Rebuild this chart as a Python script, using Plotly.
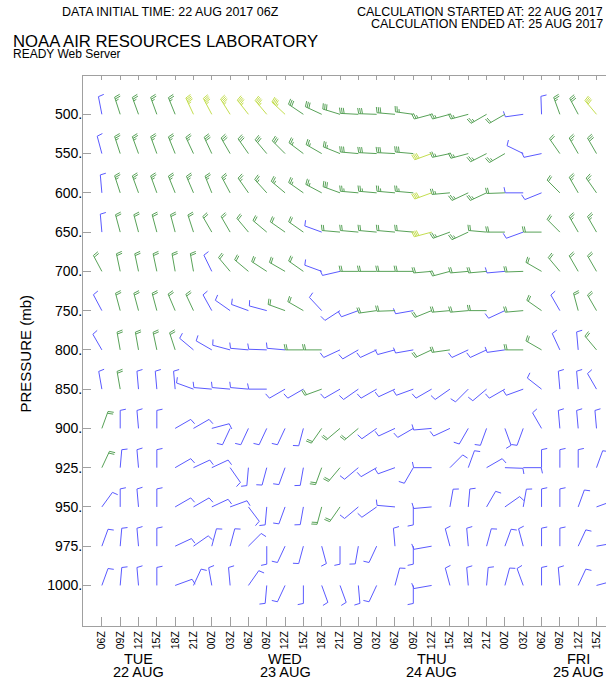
import math
import plotly.graph_objects as go

# ---------------- data ----------------
LEVELS = ["500.", "550.", "600.", "650.", "700.", "750.", "800.", "850.",
          "900.", "925.", "950.", "975.", "1000."]
TIME_LABELS = ["06Z", "09Z", "12Z", "15Z", "18Z", "21Z", "00Z", "03Z",
               "06Z", "09Z", "12Z", "15Z", "18Z", "21Z", "00Z", "03Z",
               "06Z", "09Z", "12Z", "15Z", "18Z", "21Z", "00Z", "03Z",
               "06Z", "09Z", "12Z", "15Z"]
DAY_NAMES = ["TUE", "WED", "THU", "FRI"]
DAY_DATES = ["22 AUG", "23 AUG", "24 AUG", "25 AUG"]
DAY_INDEX = [2, 10, 18, 26]  # 12Z of each day

# wind direction (deg, from) and speed (kt) per level, 28 times each
DIR_500 = [349, 342, 340, 340, 338, 335, 332, 328, 322, 320, 313, 304, 295, 287,
           273, 272, 275, 278, 255, 255, 255, 240, 240, 262, 358, 340, 332, 320]
SPD_500 = [10, 25, 25, 25, 25, 45, 45, 45, 45, 45, 45, 30, 30, 30,
           30, 30, 30, 25, 25, 25, 25, 25, 20, 10, 10, 25, 30, 40]
DIR_550 = [345, 342, 340, 340, 338, 335, 335, 330, 325, 320, 315, 307, 300, 292,
           275, 273, 273, 275, 250, 258, 255, 243, 240, 296, 258, 325, 330, 330]
SPD_550 = [10, 25, 25, 25, 25, 25, 30, 30, 30, 30, 30, 25, 25, 25,
           30, 30, 30, 30, 40, 25, 25, 25, 25, 10, 10, 20, 25, 30]
DIR_600 = [355, 342, 340, 340, 338, 337, 338, 332, 325, 318, 310, 305, 298, 290,
           275, 275, 275, 275, 250, 265, 245, 245, 268, 270, 248, 315, 330, 325]
SPD_600 = [10, 25, 25, 25, 25, 25, 25, 25, 25, 25, 25, 25, 25, 30,
           25, 25, 25, 25, 40, 25, 25, 25, 20, 10, 10, 20, 25, 25]
DIR_650 = [355, 345, 345, 345, 345, 342, 330, 330, 320, 310, 305, 305, 290, 275,
           275, 275, 275, 275, 255, 250, 245, 275, 270, 250, 270, 315, 330, 330]
SPD_650 = [10, 20, 20, 20, 20, 20, 20, 20, 20, 20, 20, 20, 10, 20,
           20, 20, 20, 20, 40, 25, 25, 20, 20, 10, 20, 20, 25, 25]
DIR_700 = [332, 348, 348, 348, 350, 350, 334, 320, 310, 303, 300, 305, 290, 257,
           270, 270, 270, 270, 265, 255, 265, 265, 265, 268, 300, 320, 330, 330]
SPD_700 = [20, 20, 20, 20, 20, 20, 10, 20, 20, 20, 20, 20, 10, 10,
           20, 20, 20, 20, 20, 20, 20, 20, 10, 20, 20, 20, 20, 20]
DIR_750 = [332, 345, 345, 345, 337, 335, 331, 305, 290, 285, 290, 300, 317, 237,
           250, 262, 268, 260, 248, 265, 265, 270, 245, 265, 305, 330, 345, 330]
SPD_750 = [10, 20, 20, 20, 20, 20, 10, 10, 10, 10, 20, 20, 10, 10,
           10, 20, 20, 10, 20, 20, 20, 20, 10, 20, 20, 10, 20, 20]
DIR_800 = [330, 350, 350, 348, 342, 310, 300, 285, 275, 272, 275, 270, 270, 245,
           240, 245, 255, 260, 245, 262, 245, 245, 262, 270, 300, 335, 355, 320]
SPD_800 = [10, 20, 20, 20, 20, 10, 10, 10, 10, 10, 10, 20, 20, 10,
           10, 10, 10, 10, 20, 20, 10, 10, 10, 20, 20, 10, 10, 20]
DIR_850 = [350, 350, 355, 355, 355, 290, 275, 275, 275, 270, 240, 240, 250, 240,
           235, 240, 245, 250, 240, 235, 225, 230, 240, 250, 308, 355, 355, 330]
SPD_850 = [10, 20, 10, 10, 10, 10, 10, 10, 10, 10, 10, 10, 20, 10,
           10, 10, 10, 10, 10, 10, 10, 10, 10, 10, 10, 10, 10, 10]
DIR_900 = [20, 0, 355, 0, 60, 60, 75, 205, 205, 205, 205, 195, 215, 230,
           230, 235, 245, 240, 265, 245, 210, 200, 160, 200, 330, 355, 355, 355]
SPD_900 = [20, 10, 10, 10, 10, 10, 10, 10, 10, 10, 10, 10, 20, 20,
           20, 10, 10, 10, 10, 10, 10, 10, 10, 10, 10, 10, 10, 10]
DIR_925 = [25, 5, 355, 0, 60, 65, 65, 145, 185, 195, 200, 190, 200, 220,
           230, 240, 250, 210, 270, 45, 20, 60, 92, 90, 0, 0, 0, 20]
SPD_925 = [20, 10, 10, 10, 10, 10, 10, 10, 10, 10, 10, 10, 20, 20,
           10, 10, 10, 10, 10, 10, 10, 10, 10, 10, 10, 10, 10, 10]
DIR_950 = [36, 0, 355, 0, 60, 60, 65, 70, 143, 185, 200, 190, 195, 215,
           230, 235, 275, 180, 265, 10, 5, 30, 55, 10, 0, 0, 20, 70]
SPD_950 = [10, 10, 10, 10, 10, 10, 10, 10, 10, 10, 10, 10, 20, 20,
           10, 10, 10, 10, 10, 10, 10, 10, 10, 10, 10, 10, 10, 10]
DIR_975 = [20, 5, 355, 0, 65, 55, 15, 15, 45, 180, 205, 195, 165, 180,
           190, 205, 355, 180, 260, 345, 355, 15, 20, 345, 0, 0, 25, 80]
SPD_975 = [10, 10, 10, 10, 10, 10, 10, 10, 10, 10, 10, 10, 10, 10,
           10, 10, 10, 10, 10, 10, 10, 10, 10, 10, 10, 10, 10, 10]
DIR_1000 = [20, 5, 355, 0, 70, 25, 350, 355, 35, 185, 205, 180, 160, 160,
            175, 205, 15, 180, 260, 345, 355, 5, 15, 340, 0, 355, 25, 75]
SPD_1000 = [10, 10, 10, 10, 10, 10, 10, 10, 10, 10, 10, 10, 10, 10,
            10, 10, 10, 10, 10, 10, 10, 10, 10, 10, 10, 10, 10, 10]

DIRS = [DIR_500, DIR_550, DIR_600, DIR_650, DIR_700, DIR_750, DIR_800, DIR_850,
        DIR_900, DIR_925, DIR_950, DIR_975, DIR_1000]
SPDS = [SPD_500, SPD_550, SPD_600, SPD_650, SPD_700, SPD_750, SPD_800, SPD_850,
        SPD_900, SPD_925, SPD_950, SPD_975, SPD_1000]

# ---------------- layout geometry ----------------
W, H = 606, 681
ML, MR, MT, MB = 83, 0, 76, 55
PW, PH = W - ML - MR, H - MT - MB
X0 = -1.03
PX_PER_X = 18.32
X1 = X0 + PW / PX_PER_X
Y_TOP = -0.976
PX_PER_Y = 39.26
Y_BOT = Y_TOP + PH / PX_PER_Y

COLORS = {"blue": "#5a5aff", "green": "#58a258", "yellow": "#c4de50"}


def color_for(s):
    if s < 15:
        return "blue"
    if s < 35:
        return "green"
    return "yellow"


def barb(xc, yc, d, s):
    """return list of segments (in data units) of one wind barb"""
    L, FL, HL = 18.0, 5.8, 3.2
    SP = 1.6 if s >= 35 else 1.9
    tilt = math.radians(12)
    th = math.radians(d)
    sx, sy = math.sin(th), math.cos(th)
    px_, py_ = math.sin(th + math.pi / 2), math.cos(th + math.pi / 2)
    fx = px_ * math.cos(tilt) + sx * math.sin(tilt)
    fy = py_ * math.cos(tilt) + sy * math.sin(tilt)

    def P(px, py):
        return (xc + px / PX_PER_X, yc - py / PX_PER_Y)

    segs = [(P(0, 0), P(sx * L, sy * L))]
    n10 = int(s // 10)
    n5 = 1 if (s % 10) >= 5 else 0
    pos = L
    for _ in range(n10):
        bx, by = sx * pos, sy * pos
        segs.append((P(bx, by), P(bx + fx * FL, by + fy * FL)))
        pos -= SP
    if n5:
        if n10 == 0:
            pos = L - SP
        bx, by = sx * pos, sy * pos
        segs.append((P(bx, by), P(bx + fx * HL, by + fy * HL)))
    return segs


lines = {k: ([], []) for k in COLORS}
for i, (drow, srow) in enumerate(zip(DIRS, SPDS)):
    for k, (d, s) in enumerate(zip(drow, srow)):
        c = color_for(s)
        for (a, b) in barb(k, i, d, s):
            lines[c][0].extend([a[0], b[0], None])
            lines[c][1].extend([a[1], b[1], None])

fig = go.Figure()
for c, (xs, ys) in lines.items():
    fig.add_trace(go.Scatter(x=xs, y=ys, mode="lines",
                             line=dict(color=COLORS[c], width=1),
                             hoverinfo="skip", showlegend=False))
# dummy trace for top axis
fig.add_trace(go.Scatter(x=[X0], y=[Y_TOP], xaxis="x2", mode="markers",
                         marker=dict(opacity=0), hoverinfo="skip", showlegend=False))

FONT = "Liberation Sans, Arial, Helvetica, sans-serif"
AXC = "#a0a0a0"


def px_to_paper_x(px):
    return (px - ML) / PW


def px_to_paper_y(py):
    return (H - MB - py) / PH


ann = []
ann.append(dict(text="DATA INITIAL TIME: 22 AUG 2017 06Z", x=px_to_paper_x(60),
                y=px_to_paper_y(12.5), xanchor="left", yanchor="middle", height=14,
                font=dict(size=12.5, color="black")))
ann.append(dict(text="CALCULATION STARTED AT: 22 AUG 2017", x=px_to_paper_x(355),
                y=px_to_paper_y(12.5), xanchor="left", yanchor="middle", height=12,
                font=dict(size=12.5, color="black")))
ann.append(dict(text="CALCULATION ENDED AT: 25 AUG 2017", x=px_to_paper_x(369),
                y=px_to_paper_y(24.5), xanchor="left", yanchor="middle", height=12,
                font=dict(size=12.5, color="black")))
ann.append(dict(text="NOAA AIR RESOURCES LABORATORY", x=px_to_paper_x(11),
                y=px_to_paper_y(41.5), xanchor="left", yanchor="middle", height=15,
                font=dict(size=16.7, color="black")))
ann.append(dict(text="READY Web Server", x=px_to_paper_x(11),
                y=px_to_paper_y(54), xanchor="left", yanchor="middle", height=10,
                font=dict(size=12, color="black")))
ann.append(dict(text="PRESSURE (mb)", x=px_to_paper_x(25.5), y=px_to_paper_y(354),
                xanchor="center", yanchor="middle", textangle=-90,
                font=dict(size=15, color="black")))
for name, date, k in zip(DAY_NAMES, DAY_DATES, DAY_INDEX):
    ann.append(dict(text=name, x=k, xref="x", y=px_to_paper_y(658.5), yref="paper",
                    xanchor="center", yanchor="middle", height=12,
                    font=dict(size=14.5, color="black")))
    ann.append(dict(text=date, x=k, xref="x", y=px_to_paper_y(671.5), yref="paper",
                    xanchor="center", yanchor="middle", height=12,
                    font=dict(size=14.5, color="black")))
for a in ann:
    a.setdefault("xref", "paper")
    a.setdefault("yref", "paper")
    a["showarrow"] = False

fig.update_layout(
    width=W, height=H,
    margin=dict(l=ML, r=MR, t=MT, b=MB, pad=0),
    paper_bgcolor="white", plot_bgcolor="white",
    font=dict(family=FONT, color="black"),
    showlegend=False,
    xaxis=dict(range=[X0, X1], tickmode="array", tickvals=list(range(len(TIME_LABELS))),
               ticktext=TIME_LABELS, tickangle=-90, ticks="inside", ticklen=9,
               tickcolor=AXC, showline=True, linecolor=AXC, linewidth=1,
               showgrid=False, zeroline=False, tickfont=dict(size=10.5, color="black")),
    xaxis2=dict(range=[X0, X1], overlaying="x", side="top", tickmode="array",
                tickvals=list(range(len(TIME_LABELS))), ticks="inside", ticklen=4,
                tickcolor=AXC, showline=True, linecolor=AXC, linewidth=1,
                showticklabels=False, showgrid=False, zeroline=False),
    yaxis=dict(range=[Y_BOT, Y_TOP], tickmode="array", tickvals=list(range(len(LEVELS))),
               ticktext=LEVELS, ticks="inside", ticklen=8, tickcolor=AXC,
               ticklabelstandoff=-3,
               showline=True, linecolor=AXC, linewidth=1, showgrid=False,
               zeroline=False, tickfont=dict(size=14, color="black")),
    annotations=ann,
)
fig.write_html("out.html")
